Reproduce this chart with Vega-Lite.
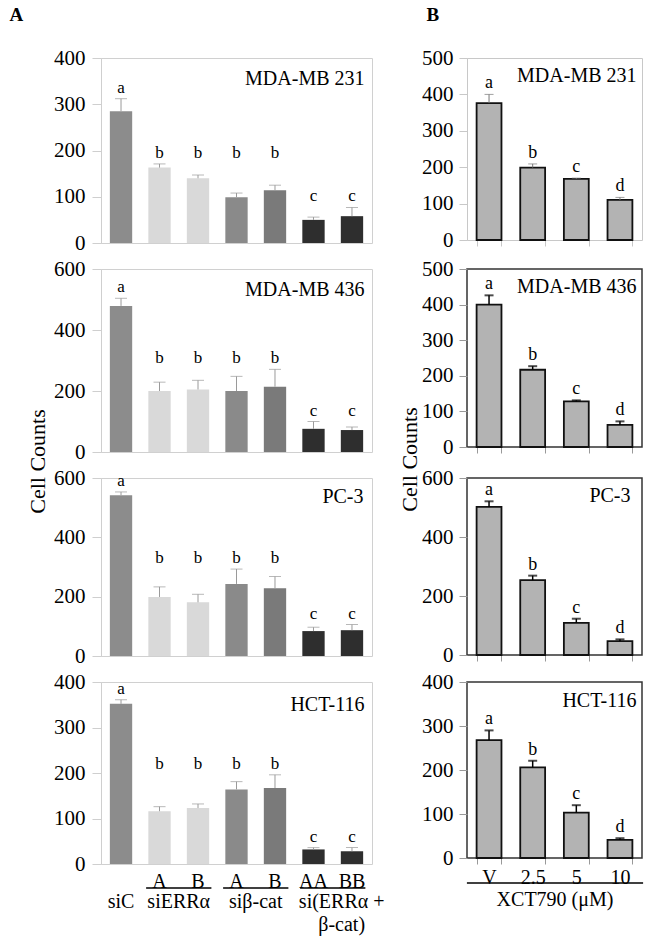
{
  "$schema": "https://vega.github.io/schema/vega-lite/v6.json",
  "background": "white",
  "padding": {"left": 8, "top": 4, "right": 5, "bottom": 5},
  "config": {
    "font": "Liberation Serif",
    "view": {"stroke": "#cfcfcf"},
    "axis": {"labelFont": "Liberation Serif", "titleFont": "Liberation Serif", "labelColor": "#000", "titleColor": "#000", "labelFontSize": 21, "labelOverlap": false, "grid": false, "titleFontWeight": "normal"},
    "title": {"font": "Liberation Serif", "fontWeight": "normal", "color": "#000"},
    "text": {"font": "Liberation Serif"}
  },
  "datasets": {
    "A": [
      {"p": "MDA-MB 231", "cat": "siC", "v": 285, "e": 312, "l": "a"},
      {"p": "MDA-MB 231", "cat": "siERRα A", "v": 163, "e": 171, "l": "b"},
      {"p": "MDA-MB 231", "cat": "siERRα B", "v": 140, "e": 147, "l": "b"},
      {"p": "MDA-MB 231", "cat": "siβ-cat A", "v": 99, "e": 108, "l": "b"},
      {"p": "MDA-MB 231", "cat": "siβ-cat B", "v": 114, "e": 125, "l": "b"},
      {"p": "MDA-MB 231", "cat": "AA", "v": 50, "e": 56, "l": "c"},
      {"p": "MDA-MB 231", "cat": "BB", "v": 58, "e": 77, "l": "c"},
      {"p": "MDA-MB 436", "cat": "siC", "v": 479, "e": 504, "l": "a"},
      {"p": "MDA-MB 436", "cat": "siERRα A", "v": 200, "e": 229, "l": "b"},
      {"p": "MDA-MB 436", "cat": "siERRα B", "v": 205, "e": 235, "l": "b"},
      {"p": "MDA-MB 436", "cat": "siβ-cat A", "v": 200, "e": 248, "l": "b"},
      {"p": "MDA-MB 436", "cat": "siβ-cat B", "v": 214, "e": 271, "l": "b"},
      {"p": "MDA-MB 436", "cat": "AA", "v": 76, "e": 100, "l": "c"},
      {"p": "MDA-MB 436", "cat": "BB", "v": 72, "e": 82, "l": "c"},
      {"p": "PC-3", "cat": "siC", "v": 542, "e": 553, "l": "a"},
      {"p": "PC-3", "cat": "siERRα A", "v": 199, "e": 233, "l": "b"},
      {"p": "PC-3", "cat": "siERRα B", "v": 181, "e": 208, "l": "b"},
      {"p": "PC-3", "cat": "siβ-cat A", "v": 243, "e": 293, "l": "b"},
      {"p": "PC-3", "cat": "siβ-cat B", "v": 228, "e": 268, "l": "b"},
      {"p": "PC-3", "cat": "AA", "v": 84, "e": 97, "l": "c"},
      {"p": "PC-3", "cat": "BB", "v": 87, "e": 106, "l": "c"},
      {"p": "HCT-116", "cat": "siC", "v": 352, "e": 361, "l": "a"},
      {"p": "HCT-116", "cat": "siERRα A", "v": 116, "e": 126, "l": "b"},
      {"p": "HCT-116", "cat": "siERRα B", "v": 123, "e": 132, "l": "b"},
      {"p": "HCT-116", "cat": "siβ-cat A", "v": 164, "e": 181, "l": "b"},
      {"p": "HCT-116", "cat": "siβ-cat B", "v": 167, "e": 196, "l": "b"},
      {"p": "HCT-116", "cat": "AA", "v": 32, "e": 36, "l": "c"},
      {"p": "HCT-116", "cat": "BB", "v": 28, "e": 36, "l": "c"}
    ],
    "B": [
      {"p": "MDA-MB 231", "cat": "V", "v": 376, "e": 400, "l": "a"},
      {"p": "MDA-MB 231", "cat": "2.5", "v": 199, "e": 209, "l": "b"},
      {"p": "MDA-MB 231", "cat": "5", "v": 168, "e": 170, "l": "c"},
      {"p": "MDA-MB 231", "cat": "10", "v": 110, "e": 117, "l": "d"},
      {"p": "MDA-MB 436", "cat": "V", "v": 400, "e": 426, "l": "a"},
      {"p": "MDA-MB 436", "cat": "2.5", "v": 217, "e": 227, "l": "b"},
      {"p": "MDA-MB 436", "cat": "5", "v": 128, "e": 131, "l": "c"},
      {"p": "MDA-MB 436", "cat": "10", "v": 62, "e": 72, "l": "d"},
      {"p": "PC-3", "cat": "V", "v": 502, "e": 521, "l": "a"},
      {"p": "PC-3", "cat": "2.5", "v": 254, "e": 269, "l": "b"},
      {"p": "PC-3", "cat": "5", "v": 109, "e": 123, "l": "c"},
      {"p": "PC-3", "cat": "10", "v": 47, "e": 53, "l": "d"},
      {"p": "HCT-116", "cat": "V", "v": 268, "e": 290, "l": "a"},
      {"p": "HCT-116", "cat": "2.5", "v": 206, "e": 221, "l": "b"},
      {"p": "HCT-116", "cat": "5", "v": 103, "e": 120, "l": "c"},
      {"p": "HCT-116", "cat": "10", "v": 41, "e": 45, "l": "d"}
    ]
  },
  "bounds": "flush",
  "columns": 2,
  "spacing": {"row": 26, "column": 95},
  "concat": [
    {
      "width": 271, "height": 185,
      "view": {"stroke": "#d0d0d0"},
      "data": {"name": "A"},
      "transform": [{"filter": "datum.p === 'MDA-MB 231'"}],
      "encoding": {
        "x": {"field": "cat", "type": "nominal", "scale": {"domain": ["siC", "siERRα A", "siERRα B", "siβ-cat A", "siβ-cat B", "AA", "BB"], "paddingInner": 0.42, "paddingOuter": 0.23}, "axis": {"labels": false, "ticks": false, "domain": false, "title": "MDA-MB 231", "titleFontSize": 20, "titleAngle": 0, "titleAlign": "right", "titleBaseline": "middle", "titleX": 263, "titleY": -165}}
      },
      "layer": [
        {"mark": {"type": "bar"}, "encoding": {
          "y": {"field": "v", "type": "quantitative", "scale": {"domain": [0, 400]}, "axis": {"values": [0, 100, 200, 300, 400], "tickCount": 10, "labelOverlap": false, "title": "A", "titleFontSize": 19, "titleFontWeight": "bold", "titleAngle": 0, "titleAlign": "left", "titleBaseline": "middle", "titleX": -92, "titleY": -44, "tickSize": 9, "labelPadding": 7, "domainColor": "#cfcfcf", "tickColor": "#cfcfcf"}},
          "color": {"field": "cat", "type": "nominal", "scale": {"domain": ["siC", "siERRα A", "siERRα B", "siβ-cat A", "siβ-cat B", "AA", "BB"], "range": ["#8c8c8c", "#d9d9d9", "#d9d9d9", "#8a8a8a", "#7a7a7a", "#2e2e2e", "#2e2e2e"]}, "legend": null}}},
        {"mark": {"type": "rule", "color": "#9a9a9a"}, "encoding": {"y": {"field": "v", "type": "quantitative"}, "y2": {"field": "e"}}},
        {"mark": {"type": "tick", "color": "#9a9a9a", "size": 12, "thickness": 1}, "encoding": {"y": {"field": "e", "type": "quantitative"}}},
        {"transform": [{"joinaggregate": [{"op": "max", "field": "e", "as": "top"}], "groupby": ["l"]}],
         "mark": {"type": "text", "fontSize": 17, "baseline": "alphabetic", "dy": -6}, "encoding": {"y": {"field": "top", "type": "quantitative"}, "text": {"field": "l"}}}
      ]
    },
    {
      "width": 175, "height": 182,
      "view": {"stroke": "#c8c8c8"},
      "data": {"name": "B"},
      "transform": [{"filter": "datum.p === 'MDA-MB 231'"}],
      "encoding": {
        "x": {"field": "cat", "type": "nominal", "scale": {"domain": ["V", "2.5", "5", "10"], "paddingInner": 0.43, "paddingOuter": 0.22}, "axis": {"labels": false, "ticks": true, "tickBand": "extent", "tickSize": 6, "tickColor": "#c8c8c8", "domain": false, "title": "MDA-MB 231", "titleFontSize": 20, "titleAngle": 0, "titleAlign": "right", "titleBaseline": "middle", "titleX": 169, "titleY": -165}}
      },
      "layer": [
        {"mark": {"type": "bar", "fill": "#b3b3b3", "stroke": "#111", "strokeWidth": 1.8}, "encoding": {
          "y": {"field": "v", "type": "quantitative", "scale": {"domain": [0, 500]}, "axis": {"values": [0, 100, 200, 300, 400, 500], "tickCount": 10, "labelOverlap": false, "title": "B", "titleFontSize": 19, "titleFontWeight": "bold", "titleAngle": 0, "titleAlign": "left", "titleBaseline": "middle", "titleX": -41, "titleY": -44, "tickSize": 8, "labelPadding": 6, "domainColor": "#c8c8c8", "tickColor": "#c8c8c8"}}}},
        {"mark": {"type": "rule", "color": "#777"}, "encoding": {"y": {"field": "v", "type": "quantitative"}, "y2": {"field": "e"}}},
        {"mark": {"type": "tick", "color": "#777", "size": 9, "thickness": 1}, "encoding": {"y": {"field": "e", "type": "quantitative"}}},
        {"mark": {"type": "text", "fontSize": 18, "baseline": "alphabetic", "dy": -6}, "encoding": {"y": {"field": "e", "type": "quantitative"}, "text": {"field": "l"}}}
      ]
    },
    {
      "width": 271, "height": 183,
      "view": {"stroke": "#d0d0d0"},
      "data": {"name": "A"},
      "transform": [{"filter": "datum.p === 'MDA-MB 436'"}],
      "encoding": {
        "x": {"field": "cat", "type": "nominal", "scale": {"domain": ["siC", "siERRα A", "siERRα B", "siβ-cat A", "siβ-cat B", "AA", "BB"], "paddingInner": 0.42, "paddingOuter": 0.23}, "axis": {"labels": false, "ticks": false, "domain": false, "title": "MDA-MB 436", "titleFontSize": 20, "titleAngle": 0, "titleAlign": "right", "titleBaseline": "middle", "titleX": 263, "titleY": -163}}
      },
      "layer": [
        {"mark": {"type": "bar"}, "encoding": {
          "y": {"field": "v", "type": "quantitative", "scale": {"domain": [0, 600]}, "axis": {"values": [0, 200, 400, 600], "tickCount": 10, "labelOverlap": false, "title": "Cell Counts", "titleFontSize": 22, "titleAngle": -90, "titleBaseline": "alphabetic", "titleX": -57, "titleY": 192, "tickSize": 9, "labelPadding": 7, "domainColor": "#cfcfcf", "tickColor": "#cfcfcf"}},
          "color": {"field": "cat", "type": "nominal", "scale": {"domain": ["siC", "siERRα A", "siERRα B", "siβ-cat A", "siβ-cat B", "AA", "BB"], "range": ["#8c8c8c", "#d9d9d9", "#d9d9d9", "#8a8a8a", "#7a7a7a", "#2e2e2e", "#2e2e2e"]}, "legend": null}}},
        {"mark": {"type": "rule", "color": "#9a9a9a"}, "encoding": {"y": {"field": "v", "type": "quantitative"}, "y2": {"field": "e"}}},
        {"mark": {"type": "tick", "color": "#9a9a9a", "size": 12, "thickness": 1}, "encoding": {"y": {"field": "e", "type": "quantitative"}}},
        {"transform": [{"joinaggregate": [{"op": "max", "field": "e", "as": "top"}], "groupby": ["l"]}],
         "mark": {"type": "text", "fontSize": 17, "baseline": "alphabetic", "dy": -6}, "encoding": {"y": {"field": "top", "type": "quantitative"}, "text": {"field": "l"}}}
      ]
    },
    {
      "width": 175, "height": 178,
      "view": {"stroke": "#333", "strokeWidth": 1.5},
      "data": {"name": "B"},
      "transform": [{"filter": "datum.p === 'MDA-MB 436'"}],
      "encoding": {
        "x": {"field": "cat", "type": "nominal", "scale": {"domain": ["V", "2.5", "5", "10"], "paddingInner": 0.43, "paddingOuter": 0.22}, "axis": {"labels": false, "ticks": true, "tickBand": "extent", "tickSize": 6, "tickColor": "#999", "domain": false, "title": "MDA-MB 436", "titleFontSize": 20, "titleAngle": 0, "titleAlign": "right", "titleBaseline": "middle", "titleX": 169, "titleY": -161}}
      },
      "layer": [
        {"mark": {"type": "bar", "fill": "#b3b3b3", "stroke": "#111", "strokeWidth": 1.8}, "encoding": {
          "y": {"field": "v", "type": "quantitative", "scale": {"domain": [0, 500]}, "axis": {"values": [0, 100, 200, 300, 400, 500], "tickCount": 10, "labelOverlap": false, "title": "Cell Counts", "titleFontSize": 22, "titleAngle": -90, "titleBaseline": "alphabetic", "titleX": -51, "titleY": 190, "tickSize": 8, "labelPadding": 6, "domain": false, "tickColor": "#999"}}}},
        {"mark": {"type": "rule", "color": "#000", "strokeWidth": 1.5}, "encoding": {"y": {"field": "v", "type": "quantitative"}, "y2": {"field": "e"}}},
        {"mark": {"type": "tick", "color": "#000", "size": 9, "thickness": 2}, "encoding": {"y": {"field": "e", "type": "quantitative"}}},
        {"mark": {"type": "text", "fontSize": 18, "baseline": "alphabetic", "dy": -6}, "encoding": {"y": {"field": "e", "type": "quantitative"}, "text": {"field": "l"}}}
      ]
    },
    {
      "width": 271, "height": 178,
      "view": {"stroke": "#d0d0d0"},
      "data": {"name": "A"},
      "transform": [{"filter": "datum.p === 'PC-3'"}],
      "encoding": {
        "x": {"field": "cat", "type": "nominal", "scale": {"domain": ["siC", "siERRα A", "siERRα B", "siβ-cat A", "siβ-cat B", "AA", "BB"], "paddingInner": 0.42, "paddingOuter": 0.23}, "axis": {"labels": false, "ticks": false, "domain": false, "title": "PC-3", "titleFontSize": 20, "titleAngle": 0, "titleAlign": "right", "titleBaseline": "middle", "titleX": 262, "titleY": -160}}
      },
      "layer": [
        {"mark": {"type": "bar"}, "encoding": {
          "y": {"field": "v", "type": "quantitative", "scale": {"domain": [0, 600]}, "axis": {"values": [0, 200, 400, 600], "tickCount": 10, "labelOverlap": false, "title": null, "tickSize": 9, "labelPadding": 7, "domainColor": "#cfcfcf", "tickColor": "#cfcfcf"}},
          "color": {"field": "cat", "type": "nominal", "scale": {"domain": ["siC", "siERRα A", "siERRα B", "siβ-cat A", "siβ-cat B", "AA", "BB"], "range": ["#8c8c8c", "#d9d9d9", "#d9d9d9", "#8a8a8a", "#7a7a7a", "#2e2e2e", "#2e2e2e"]}, "legend": null}}},
        {"mark": {"type": "rule", "color": "#9a9a9a"}, "encoding": {"y": {"field": "v", "type": "quantitative"}, "y2": {"field": "e"}}},
        {"mark": {"type": "tick", "color": "#9a9a9a", "size": 12, "thickness": 1}, "encoding": {"y": {"field": "e", "type": "quantitative"}}},
        {"transform": [{"joinaggregate": [{"op": "max", "field": "e", "as": "top"}], "groupby": ["l"]}],
         "mark": {"type": "text", "fontSize": 17, "baseline": "alphabetic", "dy": -6}, "encoding": {"y": {"field": "top", "type": "quantitative"}, "text": {"field": "l"}}}
      ]
    },
    {
      "width": 175, "height": 177,
      "view": {"stroke": "#333", "strokeWidth": 1.5},
      "data": {"name": "B"},
      "transform": [{"filter": "datum.p === 'PC-3'"}],
      "encoding": {
        "x": {"field": "cat", "type": "nominal", "scale": {"domain": ["V", "2.5", "5", "10"], "paddingInner": 0.43, "paddingOuter": 0.22}, "axis": {"labels": false, "ticks": true, "tickBand": "extent", "tickSize": 6, "tickColor": "#999", "domain": false, "title": "PC-3", "titleFontSize": 20, "titleAngle": 0, "titleAlign": "right", "titleBaseline": "middle", "titleX": 163, "titleY": -160}}
      },
      "layer": [
        {"mark": {"type": "bar", "fill": "#b3b3b3", "stroke": "#111", "strokeWidth": 1.8}, "encoding": {
          "y": {"field": "v", "type": "quantitative", "scale": {"domain": [0, 600]}, "axis": {"values": [0, 200, 400, 600], "tickCount": 10, "labelOverlap": false, "title": null, "tickSize": 8, "labelPadding": 6, "domain": false, "tickColor": "#999"}}}},
        {"mark": {"type": "rule", "color": "#000", "strokeWidth": 1.5}, "encoding": {"y": {"field": "v", "type": "quantitative"}, "y2": {"field": "e"}}},
        {"mark": {"type": "tick", "color": "#000", "size": 9, "thickness": 2}, "encoding": {"y": {"field": "e", "type": "quantitative"}}},
        {"mark": {"type": "text", "fontSize": 18, "baseline": "alphabetic", "dy": -6}, "encoding": {"y": {"field": "e", "type": "quantitative"}, "text": {"field": "l"}}}
      ]
    },
    {
      "width": 271, "height": 182,
      "view": {"stroke": "#d0d0d0"},
      "encoding": {
        "x": {"field": "cat", "type": "nominal", "scale": {"domain": ["siC", "siERRα A", "siERRα B", "siβ-cat A", "siβ-cat B", "AA", "BB"], "paddingInner": 0.42, "paddingOuter": 0.23}, "axis": {"labels": true, "labelAngle": 0, "labelPadding": 7, "labelFontSize": 20, "labelExpr": "datum.value === 'siC' ? '' : (length(datum.value) <= 2 ? datum.value : slice(datum.value, -1))", "ticks": false, "domain": false, "title": "HCT-116", "titleFontSize": 20, "titleAngle": 0, "titleAlign": "right", "titleBaseline": "middle", "titleX": 263, "titleY": -160}}
      },
      "layer": [
        {"data": {"name": "A"}, "transform": [{"filter": "datum.p === 'HCT-116'"}],
         "mark": {"type": "bar"}, "encoding": {
          "y": {"field": "v", "type": "quantitative", "scale": {"domain": [0, 400]}, "axis": {"values": [0, 100, 200, 300, 400], "tickCount": 10, "labelOverlap": false, "title": null, "tickSize": 9, "labelPadding": 7, "domainColor": "#cfcfcf", "tickColor": "#cfcfcf"}},
          "color": {"field": "cat", "type": "nominal", "scale": {"domain": ["siC", "siERRα A", "siERRα B", "siβ-cat A", "siβ-cat B", "AA", "BB"], "range": ["#8c8c8c", "#d9d9d9", "#d9d9d9", "#8a8a8a", "#7a7a7a", "#2e2e2e", "#2e2e2e"]}, "legend": null}}},
        {"data": {"name": "A"}, "transform": [{"filter": "datum.p === 'HCT-116'"}],
         "mark": {"type": "rule", "color": "#9a9a9a"}, "encoding": {"y": {"field": "v", "type": "quantitative"}, "y2": {"field": "e"}}},
        {"data": {"name": "A"}, "transform": [{"filter": "datum.p === 'HCT-116'"}],
         "mark": {"type": "tick", "color": "#9a9a9a", "size": 12, "thickness": 1}, "encoding": {"y": {"field": "e", "type": "quantitative"}}},
        {"data": {"name": "A"}, "transform": [{"filter": "datum.p === 'HCT-116'"}, {"joinaggregate": [{"op": "max", "field": "e", "as": "top"}], "groupby": ["l"]}],
         "mark": {"type": "text", "fontSize": 17, "baseline": "alphabetic", "dy": -6}, "encoding": {"y": {"field": "top", "type": "quantitative"}, "text": {"field": "l"}}},
        {"data": {"values": [{"g": "siC", "f": "siC"}]},
         "mark": {"type": "text", "fontSize": 20, "baseline": "top", "dy": 28},
         "encoding": {"x": {"field": "f", "type": "nominal", "bandPosition": 0.5}, "y": {"datum": 0, "type": "quantitative"}, "text": {"field": "g"}}},
        {"data": {"values": [{"g": "siERRα", "f": "siERRα A"}, {"g": "siβ-cat", "f": "siβ-cat A"}]},
         "mark": {"type": "text", "fontSize": 20, "baseline": "top", "dy": 28},
         "encoding": {"x": {"field": "f", "type": "nominal", "bandPosition": 1.36}, "y": {"datum": 0, "type": "quantitative"}, "text": {"field": "g"}}},
        {"data": {"values": [{"g": "si(ERRα +\nβ-cat)", "f": "AA"}]},
         "mark": {"type": "text", "fontSize": 20, "baseline": "top", "dy": 28, "dx": 9, "lineBreak": "\n", "lineHeight": 23},
         "encoding": {"x": {"field": "f", "type": "nominal", "bandPosition": 1.36}, "y": {"datum": 0, "type": "quantitative"}, "text": {"field": "g"}}},
        {"data": {"values": [{"f": "siERRα A", "t": "siERRα B"}, {"f": "siβ-cat A", "t": "siβ-cat B"}, {"f": "AA", "t": "BB"}]},
         "mark": {"type": "rule", "color": "#000", "strokeWidth": 1.5, "yOffset": 24},
         "encoding": {"x": {"field": "f", "type": "nominal", "bandPosition": -0.1}, "x2": {"field": "t", "bandPosition": 1.1}, "y": {"datum": 0, "type": "quantitative"}}}
      ]
    },
    {
      "width": 175, "height": 176,
      "view": {"stroke": "#333", "strokeWidth": 1.5},
      "encoding": {
        "x": {"field": "cat", "type": "nominal", "scale": {"domain": ["V", "2.5", "5", "10"], "paddingInner": 0.43, "paddingOuter": 0.22}, "axis": {"labels": true, "labelAngle": 0, "labelPadding": 3, "labelFontSize": 20, "ticks": true, "tickBand": "extent", "tickSize": 6, "tickColor": "#999", "domain": false, "title": "XCT790 (μM)", "titleFontSize": 20, "titlePadding": 2}}
      },
      "layer": [
        {"data": {"name": "B"}, "transform": [{"filter": "datum.p === 'HCT-116'"}],
         "mark": {"type": "bar", "fill": "#b3b3b3", "stroke": "#111", "strokeWidth": 1.8}, "encoding": {
          "y": {"field": "v", "type": "quantitative", "scale": {"domain": [0, 400]}, "axis": {"values": [0, 100, 200, 300, 400], "tickCount": 10, "labelOverlap": false, "title": "HCT-116", "titleFontSize": 20, "titleAngle": 0, "titleAlign": "right", "titleBaseline": "middle", "titleX": 169, "titleY": 18, "tickSize": 8, "labelPadding": 6, "domain": false, "tickColor": "#999"}}}},
        {"data": {"name": "B"}, "transform": [{"filter": "datum.p === 'HCT-116'"}],
         "mark": {"type": "rule", "color": "#000", "strokeWidth": 1.5}, "encoding": {"y": {"field": "v", "type": "quantitative"}, "y2": {"field": "e"}}},
        {"data": {"name": "B"}, "transform": [{"filter": "datum.p === 'HCT-116'"}],
         "mark": {"type": "tick", "color": "#000", "size": 9, "thickness": 2}, "encoding": {"y": {"field": "e", "type": "quantitative"}}},
        {"data": {"name": "B"}, "transform": [{"filter": "datum.p === 'HCT-116'"}],
         "mark": {"type": "text", "fontSize": 18, "baseline": "alphabetic", "dy": -6}, "encoding": {"y": {"field": "e", "type": "quantitative"}, "text": {"field": "l"}}},
        {"data": {"values": [{"f": "V", "t": "10"}]},
         "mark": {"type": "rule", "color": "#000", "strokeWidth": 1.5, "yOffset": 25},
         "encoding": {"x": {"field": "f", "type": "nominal", "bandPosition": -0.39}, "x2": {"field": "t", "bandPosition": 1.43}, "y": {"datum": 0, "type": "quantitative"}}}
      ]
    }
  ]
}
